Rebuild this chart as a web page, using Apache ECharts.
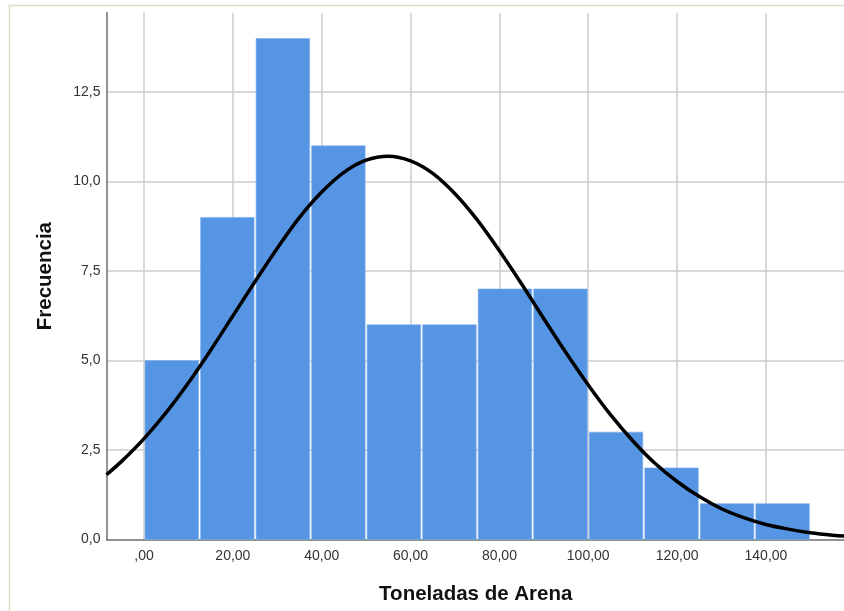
<!DOCTYPE html>
<html>
<head>
<meta charset="utf-8">
<script src="https://cdn.jsdelivr.net/npm/echarts@6/dist/echarts.min.js"></script>
<style>
html,body{margin:0;padding:0;background:#fff;}
#chart{width:844px;height:611px;}
</style>
</head>
<body>
<div id="chart"></div>
<script>
// Histogram bins (Toneladas de Arena)
const binStart = [0, 12.5, 25, 37.5, 50, 62.5, 75, 87.5, 100, 112.5, 125, 137.5];
const binEnd = [12.5, 25, 37.5, 50, 62.5, 75, 87.5, 100, 112.5, 125, 137.5, 150];
const frequency = [5, 9, 14, 11, 6, 6, 7, 7, 3, 2, 1, 1];

// Normal curve
const curveX = [-8.45, -5, 0, 5, 10, 15, 20, 25, 30, 35, 40, 45, 50, 55, 60, 65, 70, 75, 80, 85, 90, 95, 100, 105, 110, 115, 120, 125, 130, 135, 140, 145, 150, 155, 157.8];
const curveY = [1.81, 2.19, 2.82, 3.55, 4.38, 5.29, 6.25, 7.21, 8.14, 9.00, 9.71, 10.26, 10.60, 10.71, 10.58, 10.23, 9.66, 8.93, 8.07, 7.14, 6.17, 5.22, 4.32, 3.49, 2.76, 2.13, 1.62, 1.20, 0.86, 0.61, 0.42, 0.29, 0.19, 0.12, 0.095];

// Axis ranges / ticks
const xMin = -8.45, xMax = 157.8, xStep = 20;
const yMin = 0, yMax = 14.72, yStep = 2.5;

const xTitle = 'Toneladas de Arena';
const yTitle = 'Frecuencia';

const barData = binStart.map((s, i) => [s, binEnd[i], frequency[i]]);
const curveData = curveX.map((x, i) => [x, curveY[i]]);

const chart = echarts.init(document.getElementById('chart'), null, {renderer: 'canvas'});
const labelFont = {fontFamily: 'Liberation Sans, Arial, sans-serif', fontSize: 14, color: '#333'};
chart.setOption({
  animation: false,
  backgroundColor: '#ffffff',
  graphic: [{
    type: 'rect', shape: {x: 9.5, y: 5.5, width: 900, height: 700},
    style: {fill: 'none', stroke: '#e2dcc6', lineWidth: 1.5}, z: -10, silent: true
  }],
  grid: {left: 106.5, top: 12.7, right: -1, bottom: 71.5, containLabel: false, outerBoundsMode: 'none'},
  xAxis: {
    type: 'value', min: xMin, max: xMax,
    minInterval: xStep, maxInterval: xStep, splitNumber: 8,
    name: xTitle, nameLocation: 'middle', nameGap: 44,
    nameTextStyle: {fontFamily: 'Liberation Sans, Arial, sans-serif', fontSize: 20.5, fontWeight: 'bold', color: '#111'},
    axisLine: {show: true, onZero: false, lineStyle: {color: '#6e6e6e', width: 1.5}},
    axisTick: {show: false},
    axisLabel: Object.assign({}, labelFont, {margin: 10, showMinLabel: false, showMaxLabel: false,
      formatter: v => (v === 0 ? ',00' : v.toFixed(2).replace('.', ','))}),
    splitLine: {show: true, showMinLine: false, showMaxLine: false, lineStyle: {color: '#cdcdcd', width: 1.5}}
  },
  yAxis: {
    type: 'value', min: yMin, max: yMax, interval: yStep,
    name: yTitle, nameLocation: 'middle', nameGap: 51, nameRotate: 90,
    nameTextStyle: {fontFamily: 'Liberation Sans, Arial, sans-serif', fontSize: 20.5, fontWeight: 'bold', color: '#111'},
    axisLine: {show: true, onZero: false, lineStyle: {color: '#6e6e6e', width: 1.5}},
    axisTick: {show: false},
    axisLabel: Object.assign({}, labelFont, {margin: 6, showMaxLabel: false,
      formatter: v => v.toFixed(1).replace('.', ',')}),
    splitLine: {show: true, showMinLine: false, showMaxLine: false, lineStyle: {color: '#cdcdcd', width: 1.5}}
  },
  series: [{
    type: 'custom',
    data: barData,
    encode: {x: [0, 1], y: 2},
    renderItem: function (params, api) {
      const p0 = api.coord([api.value(0), api.value(2)]);
      const p1 = api.coord([api.value(1), 0]);
      return {
        type: 'rect',
        shape: {x: p0[0] + 1, y: p0[1], width: p1[0] - p0[0] - 2, height: p1[1] - p0[1]},
        style: {fill: '#5595e4', stroke: '#7aaeee', lineWidth: 0.6}
      };
    },
    z: 2
  }, {
    type: 'line',
    data: curveData,
    smooth: 0.3,
    showSymbol: false,
    lineStyle: {color: '#000', width: 3.5},
    z: 3
  }]
});
</script>
</body>
</html>
